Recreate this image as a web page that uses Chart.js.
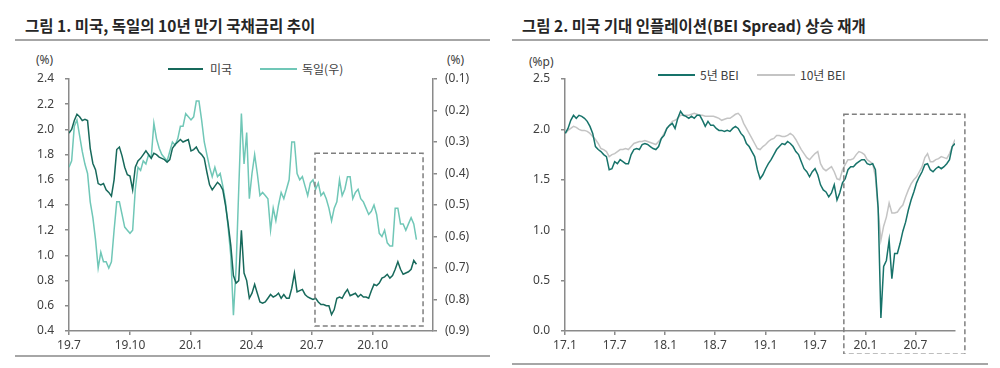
<!DOCTYPE html>
<html><head><meta charset="utf-8">
<script src="https://cdn.jsdelivr.net/npm/chart.js@4.4.1/dist/chart.umd.min.js"></script>
<style>
body{margin:0;background:#fff;}
#wrap{position:relative;width:1000px;height:368px;overflow:hidden;font-family:'Noto Sans CJK KR','Noto Sans',sans-serif;color:#333;background:#fff;}
.title{position:absolute;top:14px;font-size:15.5px;font-weight:bold;color:#262626;white-space:nowrap;line-height:22px;}
.rule{position:absolute;height:2px;background:#a6a6a6;}
.unit{position:absolute;font-family:'Noto Sans',sans-serif;font-size:12px;color:#404040;line-height:14px;white-space:nowrap;}
.lg{position:absolute;height:2px;}
.lt{position:absolute;font-size:12px;color:#404040;line-height:14px;white-space:nowrap;}
canvas{position:absolute;}
</style></head>
<body><div id="wrap">
<div class="title" style="left:25px">그림 1. 미국, 독일의 10년 만기 국채금리 추이</div>
<div class="title" style="left:522px">그림 2. 미국 기대 인플레이션(BEI Spread) 상승 재개</div>
<div class="rule" style="left:15px;width:475px;top:39px"></div>
<div class="rule" style="left:512px;width:476px;top:39px"></div>
<div class="rule" style="left:15px;width:475px;top:355px"></div>
<div class="rule" style="left:512px;width:476px;top:363px"></div>
<div class="unit" style="left:36px;top:53px">(%)</div>
<div class="unit" style="left:447px;top:53px">(%)</div>
<div class="unit" style="left:529px;top:55px">(%p)</div>
<div class="lg" id="lg1" style="left:168px;width:35px;top:68px"></div>
<div class="lt" id="lt1" style="left:210px;top:62px"></div>
<div class="lg" id="lg2" style="left:260px;width:37px;top:68px"></div>
<div class="lt" id="lt2" style="left:302px;top:62px"></div>
<div class="lg" id="lg3" style="left:658px;width:37px;top:74px"></div>
<div class="lt" id="lt3" style="left:700px;top:68px"></div>
<div class="lg" id="lg4" style="left:757px;width:38px;top:74px"></div>
<div class="lt" id="lt4" style="left:800px;top:68px"></div>
<canvas id="c1" width="500" height="306" style="left:0;top:48px"></canvas>
<canvas id="c2" width="500" height="306" style="left:500px;top:48px"></canvas>
</div>
<script>
// ---------- Chart 1 data: 10Y government bond yields (%) ----------
const rateStart = '2019-07-01';
const rateStepDays = 4;
const rateSeriesNames = ['미국', '독일(우)'];
const usYield = [1.97,2.00,2.07,2.12,2.10,2.07,2.08,2.07,1.85,1.73,
 1.68,1.57,1.56,1.57,1.52,1.50,1.47,1.60,1.84,1.86,
 1.79,1.70,1.64,1.63,1.52,1.70,1.75,1.77,1.80,1.83,
 1.80,1.77,1.81,1.80,1.78,1.77,1.76,1.74,1.76,1.85,
 1.88,1.90,1.92,1.90,1.91,1.92,1.83,1.84,1.86,1.82,
 1.80,1.77,1.66,1.56,1.52,1.55,1.58,1.56,1.52,1.40,
 1.25,1.08,0.84,0.78,0.80,1.20,0.86,0.80,0.66,0.70,
 0.77,0.70,0.63,0.62,0.63,0.66,0.69,0.67,0.68,0.70,
 0.66,0.69,0.66,0.66,0.74,0.86,0.71,0.72,0.73,0.69,
 0.67,0.66,0.65,0.66,0.63,0.61,0.61,0.60,0.60,0.53,
 0.57,0.66,0.67,0.66,0.70,0.73,0.68,0.69,0.70,0.67,
 0.69,0.67,0.67,0.66,0.72,0.77,0.76,0.78,0.82,0.83,
 0.85,0.82,0.84,0.89,0.95,0.89,0.85,0.86,0.87,0.89,
 0.96,0.93];
const deYield = [-0.38,-0.36,-0.25,-0.23,-0.28,-0.33,-0.37,-0.40,-0.49,-0.54,
 -0.61,-0.70,-0.65,-0.68,-0.68,-0.70,-0.68,-0.58,-0.49,-0.49,
 -0.53,-0.57,-0.58,-0.59,-0.58,-0.45,-0.38,-0.39,-0.36,-0.37,
 -0.34,-0.35,-0.24,-0.29,-0.32,-0.34,-0.35,-0.36,-0.33,-0.30,
 -0.31,-0.29,-0.25,-0.25,-0.21,-0.22,-0.23,-0.22,-0.17,-0.17,
 -0.23,-0.30,-0.34,-0.38,-0.41,-0.38,-0.41,-0.40,-0.44,-0.49,
 -0.57,-0.66,-0.85,-0.70,-0.45,-0.21,-0.37,-0.27,-0.48,-0.40,
 -0.34,-0.40,-0.47,-0.46,-0.47,-0.48,-0.58,-0.51,-0.55,-0.50,
 -0.46,-0.48,-0.45,-0.42,-0.30,-0.30,-0.40,-0.42,-0.41,-0.44,
 -0.47,-0.43,-0.42,-0.45,-0.43,-0.47,-0.46,-0.48,-0.51,-0.55,
 -0.51,-0.49,-0.42,-0.47,-0.45,-0.41,-0.41,-0.48,-0.46,-0.45,
 -0.48,-0.49,-0.51,-0.53,-0.52,-0.50,-0.53,-0.59,-0.60,-0.58,
 -0.62,-0.63,-0.63,-0.51,-0.51,-0.56,-0.56,-0.58,-0.56,-0.54,
 -0.56,-0.61];
const rateTickDates = ['2019-07-01','2019-10-01','2020-01-01','2020-04-01','2020-07-01','2020-10-01'];
const rateTickLabels = ['19.7','19.10','20.1','20.4','20.7','20.10'];
const rateAxisRange = ['2019-07-01','2020-12-31'];
const rateBox = {from:'2020-07-06', to:'2020-12-16', low:0.44, high:1.81};

// ---------- Chart 2 data: US BEI (%p) ----------
const beiStart = '2017-01-02';
const beiStepDays = 10;
const beiSeriesNames = ['5년 BEI', '10년 BEI'];
const bei5y = [1.96,2.01,2.09,2.14,2.11,2.14,2.13,2.11,2.08,2.03,
 1.96,1.83,1.80,1.78,1.75,1.73,1.60,1.61,1.68,1.66,
 1.70,1.68,1.66,1.66,1.75,1.80,1.81,1.80,1.85,1.86,
 1.85,1.83,1.81,1.80,1.83,1.91,1.94,2.01,2.04,2.06,
 2.01,2.11,2.18,2.14,2.13,2.11,2.13,2.11,2.14,2.14,
 2.09,2.03,2.08,2.04,2.04,2.01,1.99,1.99,1.98,1.99,
 1.98,2.01,2.03,2.01,1.96,1.93,1.86,1.83,1.78,1.73,
 1.60,1.51,1.55,1.61,1.66,1.70,1.75,1.80,1.83,1.86,
 1.85,1.88,1.86,1.83,1.78,1.75,1.68,1.61,1.58,1.53,
 1.58,1.61,1.55,1.45,1.40,1.38,1.33,1.37,1.45,1.30,
 1.37,1.47,1.51,1.60,1.63,1.63,1.66,1.68,1.70,1.70,
 1.66,1.65,1.66,1.60,1.22,0.13,0.64,0.70,0.90,0.52,
 0.77,0.77,0.87,0.99,1.08,1.20,1.30,1.38,1.47,1.53,
 1.58,1.65,1.66,1.60,1.58,1.61,1.63,1.61,1.63,1.66,
 1.70,1.83,1.86];
const bei10y = [1.96,1.99,2.01,2.03,2.02,2.00,1.99,1.99,1.98,1.96,
 1.93,1.90,1.86,1.81,1.80,1.78,1.73,1.75,1.76,1.78,
 1.80,1.80,1.81,1.80,1.83,1.86,1.87,1.88,1.88,1.89,
 1.88,1.87,1.86,1.85,1.88,1.91,1.96,2.01,2.04,2.08,
 2.09,2.11,2.14,2.14,2.14,2.14,2.15,2.16,2.15,2.14,
 2.14,2.13,2.13,2.13,2.13,2.12,2.11,2.09,2.10,2.11,
 2.11,2.13,2.15,2.16,2.13,2.06,2.01,1.96,1.91,1.86,
 1.81,1.80,1.83,1.85,1.88,1.90,1.91,1.94,1.94,1.93,
 1.93,1.94,1.96,1.94,1.90,1.85,1.80,1.76,1.72,1.70,
 1.73,1.76,1.78,1.66,1.61,1.59,1.61,1.63,1.58,1.51,
 1.50,1.60,1.65,1.70,1.70,1.71,1.75,1.78,1.77,1.75,
 1.70,1.68,1.66,1.53,1.20,0.90,1.04,1.13,1.27,1.17,
 1.17,1.18,1.22,1.25,1.33,1.40,1.46,1.50,1.53,1.58,
 1.63,1.72,1.76,1.68,1.68,1.70,1.71,1.73,1.72,1.71,
 1.76,1.83,1.90];
const beiTickDates = ['2017-01-01','2017-07-01','2018-01-01','2018-07-01','2019-01-01','2019-07-01','2020-01-01','2020-07-01'];
const beiTickLabels = ['17.1','17.7','18.1','18.7','19.1','19.7','20.1','20.7'];
const beiAxisMin = '2017-01-01';
const beiBox = {from:'2019-10-14', to:'2020-12-28', low:-0.23, high:2.15};

// ---------- styling ----------
const usColor = '#17695b', deColor = '#70c7b7', bei5Color = '#17736a', bei10Color = '#c4c4c4';
const axisColor = '#8a8a8a', tickColor = '#404040';
const tickFont = {family:"'Noto Sans', sans-serif", size:12};
const DAY = 86400000;
const ts = s => Date.parse(s + 'T00:00:00Z');
const series = (start, step, vals) => vals.map((v, i) => ({x: ts(start) + i * step * DAY, y: v}));

document.getElementById('lg1').style.background = usColor;
document.getElementById('lg2').style.background = deColor;
document.getElementById('lg3').style.background = bei5Color;
document.getElementById('lg4').style.background = bei10Color;
document.getElementById('lt1').textContent = rateSeriesNames[0];
document.getElementById('lt2').textContent = rateSeriesNames[1];
document.getElementById('lt3').textContent = beiSeriesNames[0];
document.getElementById('lt4').textContent = beiSeriesNames[1];

const dashBox = {
  id: 'dashBox',
  afterDraw(chart, args, opts) {
    const b = opts.box; if (!b) return;
    const xs = chart.scales.x, ys = chart.scales[opts.yScale || 'y'];
    const x0 = xs.getPixelForValue(ts(b.from)), x1 = xs.getPixelForValue(ts(b.to));
    const y0 = ys.getPixelForValue(b.high), y1 = ys.getPixelForValue(b.low);
    const ctx = chart.ctx;
    ctx.save();
    ctx.setLineDash([5, 3]);
    ctx.strokeStyle = '#7f7f7f';
    ctx.lineWidth = 1.5;
    ctx.strokeRect(x0, y0, x1 - x0, y1 - y0);
    ctx.restore();
  }
};

Chart.defaults.font.family = "'Noto Sans', sans-serif";
Chart.defaults.animation = false;

const axisGrid = {display:true, drawOnChartArea:false, drawTicks:true, tickLength:4, color:axisColor, lineWidth:1.5};
const axisBorder = {display:true, color:axisColor, width:1.5};
const lineDs = (label, data, color, yAxisID) => ({label, data, borderColor:color, backgroundColor:color,
  borderWidth:1.5, pointRadius:0, tension:0, yAxisID, fill:false});

new Chart(document.getElementById('c1'), {
  type: 'line',
  data: {datasets: [
    lineDs(rateSeriesNames[0], series(rateStart, rateStepDays, usYield), usColor, 'y'),
    lineDs(rateSeriesNames[1], series(rateStart, rateStepDays, deYield), deColor, 'y2')
  ]},
  options: {
    responsive:false, devicePixelRatio:1, animation:false,
    layout:{padding:{top:31, left:0, right:0, bottom:0}},
    plugins:{legend:{display:false}, tooltip:{enabled:false}, dashBox:{box:rateBox, yScale:'y'}},
    scales:{
      x:{type:'linear', min:ts(rateAxisRange[0]), max:ts(rateAxisRange[1]),
        afterBuildTicks:s=>{ s.ticks = rateTickDates.map(d=>({value:ts(d)})); },
        ticks:{autoSkip:false, maxRotation:0, padding:3, color:tickColor, font:tickFont, callback:(v,i)=>rateTickLabels[i]},
        grid:axisGrid, border:axisBorder, afterFit:s=>{ s.height = 23; }},
      y:{position:'left', min:0.4, max:2.4,
        ticks:{stepSize:0.2, padding:11, color:tickColor, font:tickFont, callback:v=>v.toFixed(1)},
        grid:axisGrid, border:axisBorder, afterFit:s=>{ s.width = 69; }},
      y2:{position:'right', min:-0.9, max:-0.1,
        ticks:{stepSize:0.1, padding:8, color:tickColor, font:tickFont, callback:v=>'(' + Math.abs(v).toFixed(1) + ')'},
        grid:axisGrid, border:axisBorder, afterFit:s=>{ s.width = 67; }}
    }
  },
  plugins:[dashBox]
});

const bei5Data = series(beiStart, beiStepDays, bei5y);
const bei10Data = series(beiStart, beiStepDays, bei10y);
new Chart(document.getElementById('c2'), {
  type: 'line',
  data: {datasets: [
    lineDs(beiSeriesNames[0], bei5Data, bei5Color, 'y'),
    lineDs(beiSeriesNames[1], bei10Data, bei10Color, 'y')
  ]},
  options: {
    responsive:false, devicePixelRatio:1, animation:false,
    layout:{padding:{top:31, left:0, right:45, bottom:0}},
    plugins:{legend:{display:false}, tooltip:{enabled:false}, dashBox:{box:beiBox, yScale:'y'}},
    scales:{
      x:{type:'linear', min:ts(beiAxisMin), max:bei5Data[bei5Data.length-1].x,
        afterBuildTicks:s=>{ s.ticks = beiTickDates.map(d=>({value:ts(d)})); },
        ticks:{autoSkip:false, maxRotation:0, padding:3, color:tickColor, font:tickFont, callback:(v,i)=>beiTickLabels[i]},
        grid:axisGrid, border:axisBorder, afterFit:s=>{ s.height = 23; }},
      y:{position:'left', min:0, max:2.5,
        ticks:{stepSize:0.5, padding:11, color:tickColor, font:tickFont, callback:v=>v.toFixed(1)},
        grid:axisGrid, border:axisBorder, afterFit:s=>{ s.width = 65; }}
    }
  },
  plugins:[dashBox]
});
</script>
</body></html>
